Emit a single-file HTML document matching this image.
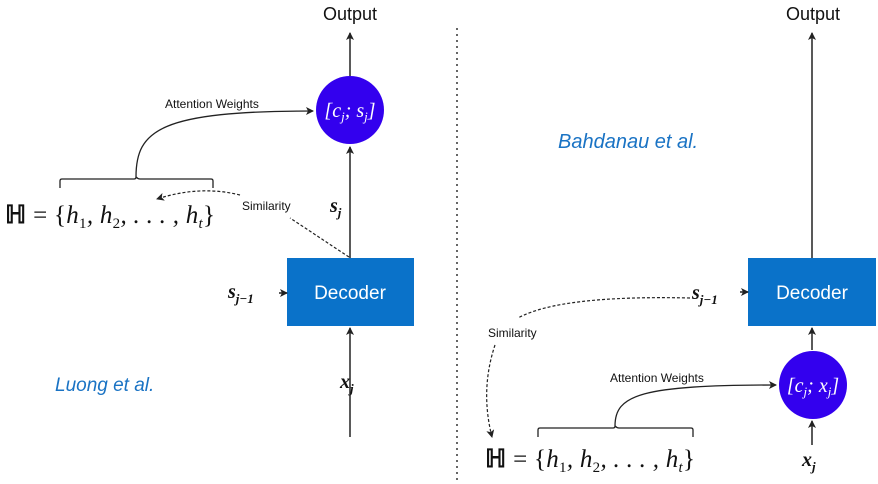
<!DOCTYPE html>
<html><head><meta charset="utf-8"><style>
html,body{margin:0;padding:0;background:#fff;}
svg{display:block;font-family:"Liberation Sans",sans-serif;}
.m{font-family:"Liberation Serif",serif;font-style:italic;}
</style></head><body>
<svg width="878" height="484" viewBox="0 0 878 484">
<defs>
<marker id="ah" markerWidth="8" markerHeight="8" refX="7" refY="4" orient="auto" markerUnits="userSpaceOnUse"><path d="M0,0 L8,4 L0,8 L2,4 Z" fill="#222"/></marker>
</defs>
<line x1="457" y1="28" x2="457" y2="484" stroke="#333" stroke-width="1.5" stroke-dasharray="2,4"/>

<g>
<text x="350" y="20" font-size="18" text-anchor="middle" fill="#111">Output</text>
<line x1="350" y1="76" x2="350" y2="33" stroke="#222" stroke-width="1.5" marker-end="url(#ah)"/>
<circle cx="350" cy="110" r="34" fill="#3300ee"/>
<text x="350" y="117" font-size="20" text-anchor="middle" fill="#fff" class="m">[c<tspan font-size="13" dy="4">j</tspan><tspan dy="-4">; s</tspan><tspan font-size="13" dy="4">j</tspan><tspan dy="-4">]</tspan></text>
<line x1="350" y1="258" x2="350" y2="147" stroke="#222" stroke-width="1.5" marker-end="url(#ah)"/>
<rect x="287" y="258" width="127" height="68" fill="#0a72c9"/>
<text x="350" y="299" font-size="19" text-anchor="middle" fill="#fff">Decoder</text>
<text x="330" y="212" font-size="20" class="m" font-weight="bold" fill="#111">s<tspan font-size="13" dy="5">j</tspan></text>
<text x="228" y="298" font-size="20" class="m" font-weight="bold" fill="#111">s<tspan font-size="13" dy="5">j−1</tspan></text>
<line x1="279" y1="293" x2="287" y2="293" stroke="#222" stroke-width="1.5" marker-end="url(#ah)"/>
<text x="340" y="388" font-size="20" class="m" font-weight="bold" fill="#111">x<tspan font-size="13" dy="5">j</tspan></text>
<line x1="350" y1="437" x2="350" y2="328" stroke="#222" stroke-width="1.5" marker-end="url(#ah)"/>
<text x="55" y="391" font-size="19" font-style="italic" fill="#1a73c4">Luong et al.</text>
<path d="M60,188 V181 Q60,179 62,179 H134 Q136,179 136,177 M136,177 Q138,179 140,179 H211 Q213,179 213,181 V188" fill="none" stroke="#222" stroke-width="1.3"/>
<path d="M136,177 C136,130 160,111 313,111" fill="none" stroke="#222" stroke-width="1.3" marker-end="url(#ah)"/>
<text x="165" y="108" font-size="12" fill="#111">Attention Weights</text>
<text x="5" y="223" font-size="25" class="m" fill="#111" textLength="210"><tspan font-style="normal" font-weight="bold">ℍ</tspan><tspan font-style="normal"> = {</tspan>h<tspan font-size="15" dy="5" font-style="normal">1</tspan><tspan dy="-5">, h</tspan><tspan font-size="15" dy="5" font-style="normal">2</tspan><tspan dy="-5">, . . . , h</tspan><tspan font-size="15" dy="5">t</tspan><tspan dy="-5" font-style="normal">}</tspan></text>
<text x="242" y="210" font-size="12" fill="#111">Similarity</text>
<line x1="349" y1="257" x2="290" y2="218" stroke="#222" stroke-width="1.2" stroke-dasharray="3,2"/>
<path d="M240,195 Q200,185 157,199" fill="none" stroke="#222" stroke-width="1.2" stroke-dasharray="3,2" marker-end="url(#ah)"/>
</g>

<g>
<text x="813" y="20" font-size="18" text-anchor="middle" fill="#111">Output</text>
<line x1="812" y1="258" x2="812" y2="33" stroke="#222" stroke-width="1.5" marker-end="url(#ah)"/>
<text x="558" y="148" font-size="20" font-style="italic" fill="#1a73c4">Bahdanau et al.</text>
<rect x="748" y="258" width="128" height="68" fill="#0a72c9"/>
<text x="812" y="299" font-size="19" text-anchor="middle" fill="#fff">Decoder</text>
<text x="692" y="299" font-size="20" class="m" font-weight="bold" fill="#111">s<tspan font-size="13" dy="5">j−1</tspan></text>
<line x1="740" y1="292" x2="748" y2="292" stroke="#222" stroke-width="1.5" marker-end="url(#ah)"/>
<path d="M690,298 Q560,295 518,318" fill="none" stroke="#222" stroke-width="1.2" stroke-dasharray="3,2"/>
<text x="488" y="337" font-size="12" fill="#111">Similarity</text>
<path d="M495,345 Q480,390 492,437" fill="none" stroke="#222" stroke-width="1.2" stroke-dasharray="3,2" marker-end="url(#ah)"/>
<line x1="812" y1="350" x2="812" y2="328" stroke="#222" stroke-width="1.5" marker-end="url(#ah)"/>
<circle cx="813" cy="385" r="34" fill="#3300ee"/>
<text x="813" y="392" font-size="20" text-anchor="middle" fill="#fff" class="m">[c<tspan font-size="13" dy="4">j</tspan><tspan dy="-4">; x</tspan><tspan font-size="13" dy="4">j</tspan><tspan dy="-4">]</tspan></text>
<text x="802" y="466" font-size="20" class="m" font-weight="bold" fill="#111">x<tspan font-size="13" dy="5">j</tspan></text>
<line x1="812" y1="445" x2="812" y2="421" stroke="#222" stroke-width="1.5" marker-end="url(#ah)"/>
<path d="M538,437 V430 Q538,428 540,428 H613 Q615,428 615,426 M615,426 Q617,428 619,428 H691 Q693,428 693,430 V437" fill="none" stroke="#222" stroke-width="1.3"/>
<path d="M615,426 C615,395 640,385 776,385" fill="none" stroke="#222" stroke-width="1.3" marker-end="url(#ah)"/>
<text x="610" y="382" font-size="12" fill="#111">Attention Weights</text>
<text x="485" y="467" font-size="25" class="m" fill="#111" textLength="210"><tspan font-style="normal" font-weight="bold">ℍ</tspan><tspan font-style="normal"> = {</tspan>h<tspan font-size="15" dy="5" font-style="normal">1</tspan><tspan dy="-5">, h</tspan><tspan font-size="15" dy="5" font-style="normal">2</tspan><tspan dy="-5">, . . . , h</tspan><tspan font-size="15" dy="5">t</tspan><tspan dy="-5" font-style="normal">}</tspan></text>
</g>
</svg>
</body></html>
